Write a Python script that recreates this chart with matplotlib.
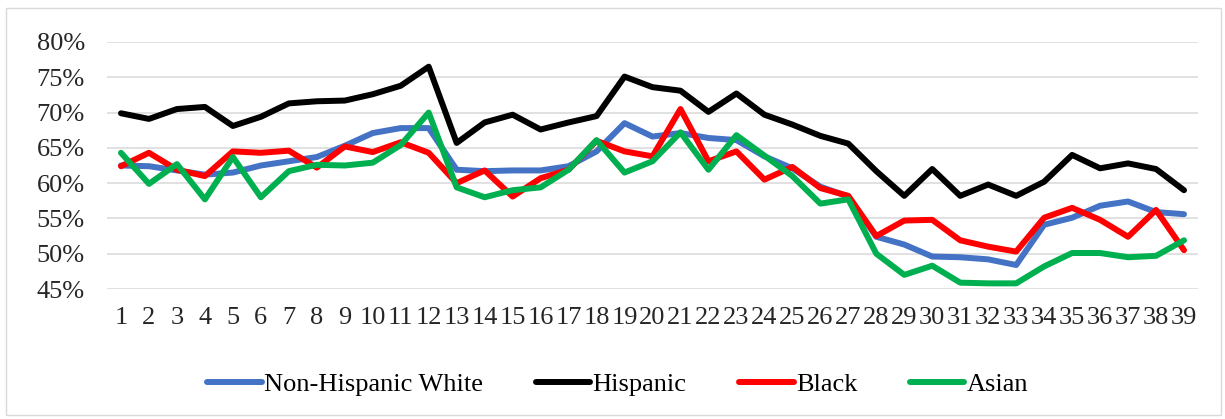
import matplotlib
matplotlib.use("Agg")
import matplotlib.pyplot as plt
from matplotlib.patches import Rectangle
from matplotlib.ticker import FuncFormatter, MultipleLocator

plt.rcParams['font.family'] = ['Liberation Serif', 'DejaVu Serif']

categories = [str(i) for i in range(1, 40)]

non_hispanic_white = [62.5, 62.4, 61.8, 61.2, 61.5, 62.5, 63.1, 63.7, 65.3, 67.1,
                      67.8, 67.8, 61.9, 61.7, 61.8, 61.8, 62.4, 64.5, 68.5, 66.6,
                      67.1, 66.4, 66.1, 63.8, 62.1, 59.5, 58.1, 52.4, 51.3, 49.6,
                      49.5, 49.2, 48.4, 54.1, 55.1, 56.8, 57.4, 55.9, 55.6]
hispanic = [69.9, 69.1, 70.5, 70.8, 68.1, 69.4, 71.3, 71.6, 71.7, 72.6,
            73.8, 76.5, 65.7, 68.6, 69.7, 67.6, 68.6, 69.5, 75.1, 73.6,
            73.1, 70.1, 72.7, 69.7, 68.3, 66.7, 65.6, 61.7, 58.2, 62.0,
            58.2, 59.8, 58.2, 60.2, 64.0, 62.1, 62.8, 62.0, 59.0]
black = [62.4, 64.3, 61.9, 61.0, 64.5, 64.3, 64.6, 62.2, 65.2, 64.4,
         65.8, 64.3, 60.0, 61.8, 58.1, 60.7, 61.9, 66.0, 64.5, 63.8,
         70.5, 63.1, 64.5, 60.5, 62.3, 59.3, 58.2, 52.5, 54.7, 54.8,
         51.9, 51.0, 50.3, 55.1, 56.5, 54.8, 52.4, 56.2, 50.5]
asian = [64.3, 59.9, 62.7, 57.7, 63.7, 58.0, 61.7, 62.6, 62.5, 62.9,
         65.4, 70.0, 59.4, 58.0, 59.0, 59.4, 61.9, 66.1, 61.5, 63.1,
         67.2, 61.9, 66.8, 63.9, 61.0, 57.1, 57.7, 50.0, 47.0, 48.3,
         45.9, 45.8, 45.8, 48.2, 50.1, 50.1, 49.5, 49.7, 51.9]

series_names = ["Non-Hispanic White", "Hispanic", "Black", "Asian"]
series_values = [non_hispanic_white, hispanic, black, asian]
series_colors = ["#4472C4", "#000000", "#FF0000", "#00B050"]

W, H = 1225, 419
fig = plt.figure(figsize=(W / 100, H / 100), dpi=100)
fig.patch.set_facecolor("white")

# chart border
fig.patches.append(Rectangle((6 / W, 1 - 415 / H), (1221 - 6) / W, (415 - 8) / H,
                             transform=fig.transFigure, fill=False,
                             edgecolor="#D9D9D9", linewidth=1.0))

ax = fig.add_axes([107 / W, 1 - 289 / H, (1198 - 107) / W, (289 - 42) / H])

x = list(range(len(categories)))
lines = []
for name, vals, col in zip(series_names, series_values, series_colors):
    ln, = ax.plot(x, vals, color=col, linewidth=4.3, label=name,
                  solid_joinstyle="round", solid_capstyle="round", zorder=3)
    lines.append(ln)

ax.set_xlim(-0.5, len(categories) - 0.5)
ax.set_ylim(45, 80)
ax.yaxis.set_major_locator(MultipleLocator(5))
ax.yaxis.set_major_formatter(FuncFormatter(lambda v, p: f"{v:.0f}%"))
ax.set_xticks(x)
ax.set_xticklabels(categories)

ax.grid(axis="y", color="#D9D9D9", linewidth=1.1, zorder=0)
ax.grid(axis="x", visible=False)
for s in ax.spines.values():
    s.set_visible(False)
ax.tick_params(axis="both", length=0, labelsize=19, colors="#000000")
ax.tick_params(axis="y", pad=16)
ax.tick_params(axis="x", pad=13)
for lbl in ax.get_xticklabels() + ax.get_yticklabels():
    lbl.set_color("#262626")

leg = fig.legend(handles=lines, labels=series_names, loc="center",
                 bbox_to_anchor=(618 / W, 1 - 384 / H), ncol=4, frameon=False,
                 fontsize=19, handlelength=2.05, handletextpad=0.1,
                 columnspacing=2.0)

fig.savefig("out.png", dpi=100, facecolor="white")
